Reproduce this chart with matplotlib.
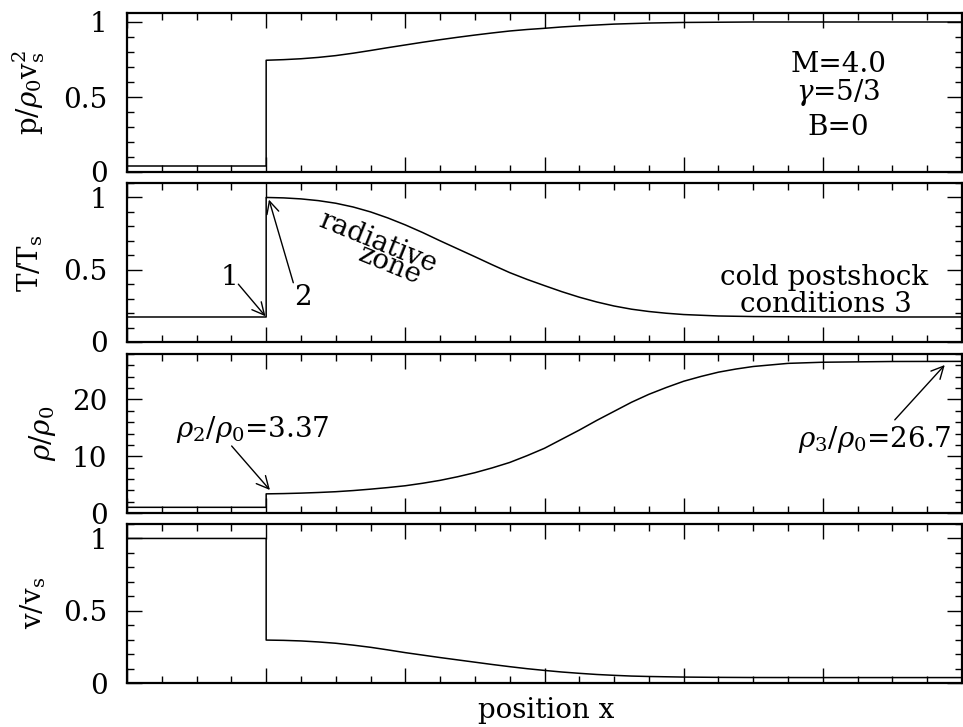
import numpy as np
import matplotlib
matplotlib.use("Agg")
import matplotlib.pyplot as plt
from matplotlib.ticker import MultipleLocator, FuncFormatter

plt.rcParams['font.family'] = ['DejaVu Serif']
plt.rcParams['mathtext.fontset'] = 'dejavuserif'

# ---------------- data ----------------
x_shock = 1.0
x_min, x_max = 0.0, 6.0

# pre-shock values (region 1)
p_pre = 0.04
T_pre = 0.173
rho_pre = 1.0
v_pre = 1.0

# post-shock profiles
p_x = [1.0, 1.125, 1.25, 1.375, 1.5, 1.625, 1.75, 1.875, 2.0, 2.125, 2.25, 2.375, 2.5,
       2.625, 2.75, 2.875, 3.0, 3.125, 3.25, 3.375, 3.5, 3.75, 4.0, 4.5, 5.0, 6.0]
p_val = [0.745, 0.749, 0.755, 0.764, 0.776, 0.792, 0.81, 0.829, 0.847, 0.865, 0.882, 0.898,
         0.913, 0.927, 0.94, 0.95, 0.958, 0.967, 0.974, 0.98, 0.986, 0.993, 0.997, 1.0, 1.0, 1.0]

T_x = [1.0, 1.125, 1.25, 1.375, 1.5, 1.625, 1.75, 1.875, 2.0, 2.125, 2.25, 2.375, 2.5,
       2.625, 2.75, 2.875, 3.0, 3.125, 3.25, 3.375, 3.5, 3.625, 3.75, 3.875, 4.0, 4.25,
       4.5, 5.0, 6.0]
T_val = [1.0, 0.997, 0.99, 0.978, 0.96, 0.934, 0.90, 0.858, 0.81, 0.757, 0.70, 0.645, 0.59,
         0.534, 0.48, 0.433, 0.39, 0.348, 0.31, 0.277, 0.249, 0.227, 0.211, 0.199, 0.19, 0.18,
         0.176, 0.173, 0.173]

rho_x = [1.0, 1.125, 1.25, 1.375, 1.5, 1.625, 1.75, 1.875, 2.0, 2.125, 2.25, 2.375, 2.5,
         2.625, 2.75, 2.875, 3.0, 3.125, 3.25, 3.375, 3.5, 3.625, 3.75, 3.875, 4.0, 4.125,
         4.25, 4.375, 4.5, 4.75, 5.0, 5.5, 6.0]
rho_val = [3.37, 3.42, 3.5, 3.61, 3.75, 3.95, 4.2, 4.48, 4.8, 5.24, 5.75, 6.38, 7.1,
           7.95, 8.9, 10.1, 11.4, 13.0, 14.6, 16.3, 17.9, 19.5, 20.9, 22.1, 23.2, 24.05,
           24.8, 25.35, 25.8, 26.35, 26.55, 26.68, 26.7]

v_x = [1.0, 1.125, 1.25, 1.375, 1.5, 1.625, 1.75, 1.875, 2.0, 2.125, 2.25, 2.375, 2.5,
       2.625, 2.75, 2.875, 3.0, 3.125, 3.25, 3.375, 3.5, 3.625, 3.75, 4.0, 4.25, 4.5,
       5.0, 6.0]
v_val = [0.297, 0.295, 0.291, 0.284, 0.275, 0.262, 0.247, 0.229, 0.21, 0.193, 0.176, 0.16,
         0.144, 0.128, 0.113, 0.099, 0.087, 0.076, 0.067, 0.059, 0.053, 0.048, 0.045, 0.041,
         0.039, 0.038, 0.0375, 0.0375]

ylabels = [r'p/$\rho_0\mathrm{v}_\mathrm{s}^2$', r'T/T$_\mathrm{s}$', r'$\rho/\rho_0$', r'v/v$_\mathrm{s}$']
ylims = [(0, 1.06), (0, 1.1), (0, 28), (0, 1.1)]
ymajor = [0.5, 0.5, 10, 0.5]
yminor = [0.1, 0.1, 2, 0.1]

# ---------------- figure ----------------
W, H = 963, 727
fig = plt.figure(figsize=(W / 100, H / 100), dpi=100)

left = 127 / W
width = (962 - 127) / W
panel_px = [(13, 172), (183, 342), (354, 513), (524, 683)]

FS = 20
axes = []
for i, (top, bot) in enumerate(panel_px):
    ax = fig.add_axes([left, 1 - bot / H, width, (bot - top) / H])
    axes.append(ax)
    ax.set_xlim(x_min, x_max)
    ax.set_ylim(*ylims[i])
    ax.xaxis.set_major_locator(MultipleLocator(1))
    ax.xaxis.set_minor_locator(MultipleLocator(0.25))
    ax.yaxis.set_major_locator(MultipleLocator(ymajor[i]))
    ax.yaxis.set_minor_locator(MultipleLocator(yminor[i]))
    ax.tick_params(which='both', direction='in', top=True, right=True,
                   labelbottom=False, labelsize=FS, width=1.0, pad=14)
    ax.tick_params(which='major', length=11)
    ax.tick_params(which='minor', length=5)
    ax.yaxis.set_major_formatter(FuncFormatter(lambda v, pos: ('%g' % v)))
    for s in ax.spines.values():
        s.set_linewidth(1.6)

def profile(pre, xs, vals):
    xx = np.concatenate([[x_min, x_shock], xs])
    yy = np.concatenate([[pre, pre], vals])
    return xx, yy

lw = 1.1
ax = axes[0]
ax.plot(*profile(p_pre, p_x, p_val), color='black', lw=lw)
ax.text(5.11, 0.669, 'M=4.0', ha='center', va='baseline', fontsize=FS)
ax.text(5.11, 0.48, r'$\gamma$=5/3', ha='center', va='baseline', fontsize=FS)
ax.text(5.11, 0.247, 'B=0', ha='center', va='baseline', fontsize=FS)

ax = axes[1]
ax.plot(*profile(T_pre, T_x, T_val), color='black', lw=lw)
arrow = dict(arrowstyle='->', lw=1.0, color='black', mutation_scale=22, shrinkA=0, shrinkB=0)
ax.annotate('', xy=(0.995, 0.178), xytext=(0.80, 0.40), arrowprops=arrow)
ax.text(0.733, 0.397, '1', ha='center', va='baseline', fontsize=FS)
ax.annotate('', xy=(1.02, 0.985), xytext=(1.195, 0.41), arrowprops=arrow)
ax.text(1.267, 0.258, '2', ha='center', va='baseline', fontsize=FS)
ax.text(1.80, 0.687, 'radiative', ha='center', va='center', rotation=-22,
        rotation_mode='anchor', fontsize=FS)
ax.text(1.89, 0.528, 'zone', ha='center', va='center', rotation=-22,
        rotation_mode='anchor', fontsize=FS)
ax.text(5.01, 0.397, 'cold postshock', ha='center', va='baseline', fontsize=FS)
ax.text(5.02, 0.205, 'conditions 3', ha='center', va='baseline', fontsize=FS)

ax = axes[2]
ax.plot(*profile(rho_pre, rho_x, rho_val), color='black', lw=lw)
ax.annotate('', xy=(1.027, 4.05), xytext=(0.752, 11.8), arrowprops=arrow)
ax.text(0.907, 13.4, r'$\rho_2/\rho_0$=3.37', ha='center', va='baseline', fontsize=FS)
ax.annotate('', xy=(5.876, 26.06), xytext=(5.517, 16.4), arrowprops=arrow)
ax.text(5.37, 11.7, r'$\rho_3/\rho_0$=26.7', ha='center', va='baseline', fontsize=FS)

ax = axes[3]
ax.plot(*profile(v_pre, v_x, v_val), color='black', lw=lw)

# y labels
label_pos = [(29, 93), (30, 263.5), (42, 433), (33, 603)]
for lab, (px, py) in zip(ylabels, label_pos):
    fig.text(px / W, 1 - py / H, lab, rotation=90, ha='center', va='center', fontsize=FS)

fig.text(546 / W, 1 - 718 / H, 'position x', ha='center', va='baseline', fontsize=FS)

fig.savefig('out.png', dpi=100)
